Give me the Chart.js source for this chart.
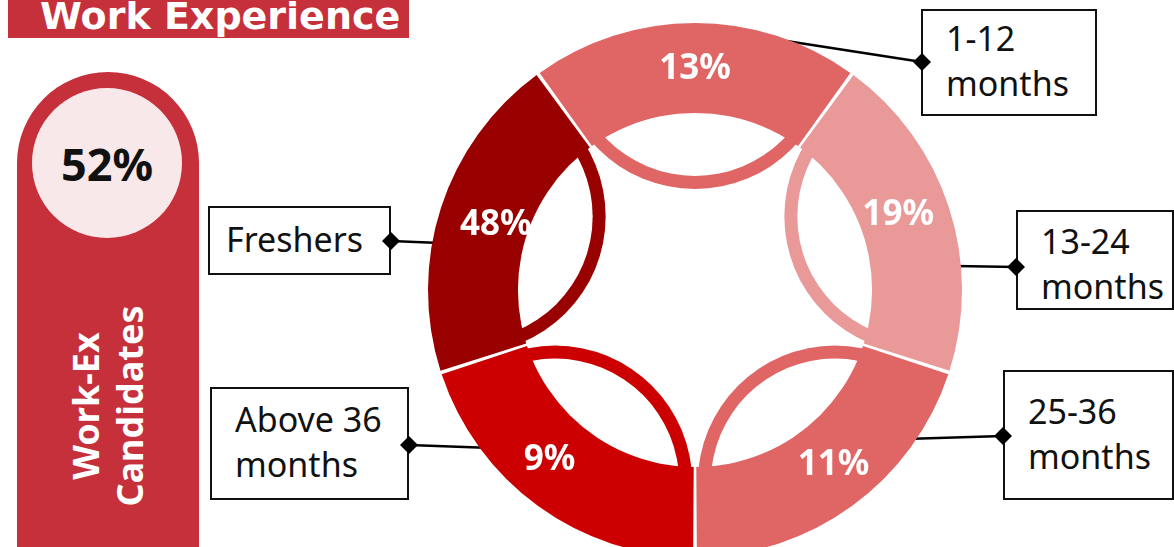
<!DOCTYPE html>
<html>
<head>
<meta charset="utf-8">
<script src="https://cdn.jsdelivr.net/npm/chart.js@4.4.1/dist/chart.umd.min.js"></script>
<style>
  html, body { margin: 0; padding: 0; background: #fff; overflow: hidden; }
  body { width: 1174px; height: 547px; position: relative; font-family: "Noto Sans", sans-serif; }
  #banner { position: absolute; left: 8px; top: 0; width: 401px; height: 38px; background: #C5303A; overflow: hidden; }
  #banner span { position: absolute; left: 32px; top: -3px; color: #fff; font: bold 38px "DejaVu Sans"; line-height: 1; white-space: nowrap; }
  #pill { position: absolute; left: 17px; top: 72px; width: 182px; height: 500px; background: #C5303A; border-radius: 91px 91px 0 0; }
  #bubble { position: absolute; left: 32px; top: 88px; width: 150px; height: 150px; border-radius: 50%; background: #F8E8E9;
            display: flex; align-items: center; justify-content: center; font: bold 45px "Noto Sans"; color: #111; }
  #side { position: absolute; left: -22px; top: 362px; width: 260px; height: 88px; transform: rotate(-90deg);
          color: #fff; font: bold 36px "Noto Sans"; line-height: 44px; text-align: center; }
  .box { position: absolute; box-sizing: border-box; border: 2px solid #111; background: transparent;
         font: 34px "Noto Sans"; line-height: 45px; color: #111; white-space: nowrap; }
  .box div { position: absolute; }
  #wrap { position: absolute; left: 0; top: 0; width: 1174px; height: 565px; pointer-events: none; }
</style>
</head>
<body>
<div id="banner"><span id="title"></span></div>
<div id="pill"></div>
<div id="bubble"></div>
<div id="side"></div>
<div id="boxes"></div>
<div id="wrap"><canvas id="chart" width="1174" height="565"></canvas></div>
<script>
// slices clockwise from the top: each slice is drawn as one fifth of the ring
const categories = [['1-12', 'months'], ['13-24', 'months'], ['25-36', 'months'], ['Above 36', 'months'], ['Freshers']];
const arcWeights = [20, 20, 20, 20, 20];
const shareLabels = [13, 19, 11, 9, 48];
const workExShare = 52;
const sideTitle = ['Work-Ex', 'Candidates'];
const chartTitle = 'Work Experience';

const sliceColors = ['#E06666', '#EA9999', '#E06666', '#CC0000', '#990000'];
const SPACING = 5;
// small shifts of the ring labels from the slice centre
const labelNudge = [[0, 1], [-8, -6], [8, -5], [-15, -10], [12, 4]];

// label boxes and their leader lines (page pixels)
const boxLayout = [
  { left: 921, top: 9, width: 176, height: 107, tx: 25, ty: 7, line: [[780, 40], [922, 62]] },
  { left: 1016, top: 210, width: 158, height: 100, tx: 25, ty: 9, line: [[955, 266], [1016, 267]] },
  { left: 1003, top: 370, width: 171, height: 130, tx: 25, ty: 19, line: [[905, 439], [1003, 436]] },
  { left: 210, top: 387, width: 199, height: 113, tx: 25, ty: 10, line: [[492, 448], [409, 445]] },
  { left: 208, top: 206, width: 183, height: 69, tx: 18, ty: 11, line: [[440, 243], [391, 241]] }
];

document.getElementById('title').textContent = chartTitle;
document.getElementById('bubble').textContent = workExShare + '%';
document.getElementById('side').innerHTML = sideTitle.join('<br>');

const boxes = document.getElementById('boxes');
categories.forEach((lines, i) => {
  const b = boxLayout[i];
  const el = document.createElement('div');
  el.className = 'box';
  el.style.left = b.left + 'px';
  el.style.top = b.top + 'px';
  el.style.width = b.width + 'px';
  el.style.height = b.height + 'px';
  const t = document.createElement('div');
  t.style.left = (b.tx - 2) + 'px';
  t.style.top = (b.ty - 2) + 'px';
  t.innerHTML = lines.join('<br>');
  el.appendChild(t);
  boxes.appendChild(el);
});

// leader lines go under the ring, diamonds on top
const leaders = {
  id: 'leaders',
  beforeDatasetsDraw(chart) {
    const ctx = chart.ctx;
    ctx.save();
    ctx.strokeStyle = '#000';
    ctx.lineWidth = 2.5;
    boxLayout.forEach(b => {
      ctx.beginPath();
      ctx.moveTo(b.line[0][0], b.line[0][1]);
      ctx.lineTo(b.line[1][0], b.line[1][1]);
      ctx.stroke();
    });
    ctx.restore();
  },
  afterDraw(chart) {
    const ctx = chart.ctx;
    ctx.save();
    ctx.fillStyle = '#000';
    boxLayout.forEach(b => {
      const [x, y] = b.line[1];
      ctx.beginPath();
      ctx.moveTo(x, y - 9);
      ctx.lineTo(x + 9, y);
      ctx.lineTo(x, y + 9);
      ctx.lineTo(x - 9, y);
      ctx.closePath();
      ctx.fill();
    });
    ctx.restore();
  }
};

// inner petal with a lens-shaped hole for every slice
const petals = {
  id: 'petals',
  afterDatasetsDraw(chart) {
    const ctx = chart.ctx;
    const meta = chart.getDatasetMeta(0);
    meta.data.forEach((arc, i) => {
      const p = arc.getProps(['x', 'y', 'startAngle', 'endAngle', 'innerRadius', 'outerRadius']);
      // radii as actually painted (arc adds half the spacing)
      const rIn = p.innerRadius + SPACING / 2;
      const rOut = p.outerRadius + SPACING / 2;
      const mid = (p.startAngle + p.endAngle) / 2;
      const k = rOut / 267;
      const cx = p.x + Math.cos(mid) * 238 * k;
      const cy = p.y + Math.sin(mid) * 238 * k;

      ctx.save();
      ctx.beginPath();
      ctx.arc(p.x, p.y, rIn + 1.5, 0, Math.PI * 2);
      ctx.clip();
      ctx.fillStyle = sliceColors[i];
      ctx.beginPath();
      ctx.arc(cx, cy, 137 * k, 0, Math.PI * 2);
      ctx.fill();
      ctx.restore();

      ctx.save();
      ctx.beginPath();
      ctx.arc(p.x, p.y, rIn, 0, Math.PI * 2);
      ctx.clip();
      ctx.fillStyle = '#fff';
      ctx.beginPath();
      ctx.arc(cx, cy, 124 * k, 0, Math.PI * 2);
      ctx.fill();
      ctx.restore();
    });

    // percentage labels in the ring
    ctx.save();
    ctx.fillStyle = '#fff';
    ctx.font = 'bold 35px "Noto Sans"';
    ctx.textAlign = 'center';
    ctx.textBaseline = 'middle';
    meta.data.forEach((arc, i) => {
      const pos = arc.tooltipPosition();
      ctx.fillText(shareLabels[i] + '%', pos.x + labelNudge[i][0], pos.y + labelNudge[i][1]);
    });
    ctx.restore();
  }
};

new Chart(document.getElementById('chart'), {
  type: 'doughnut',
  data: {
    labels: categories.map(l => l.join(' ')),
    datasets: [{
      data: arcWeights,
      backgroundColor: sliceColors,
      borderWidth: 0,
      spacing: SPACING,
      hoverOffset: 0
    }]
  },
  options: {
    responsive: false,
    animation: false,
    rotation: -36,
    cutout: '66%',
    layout: { padding: { left: 428, right: 212, top: 23, bottom: 8 } },
    plugins: {
      legend: { display: false },
      tooltip: { enabled: false }
    }
  },
  plugins: [leaders, petals]
});
</script>
</body>
</html>
